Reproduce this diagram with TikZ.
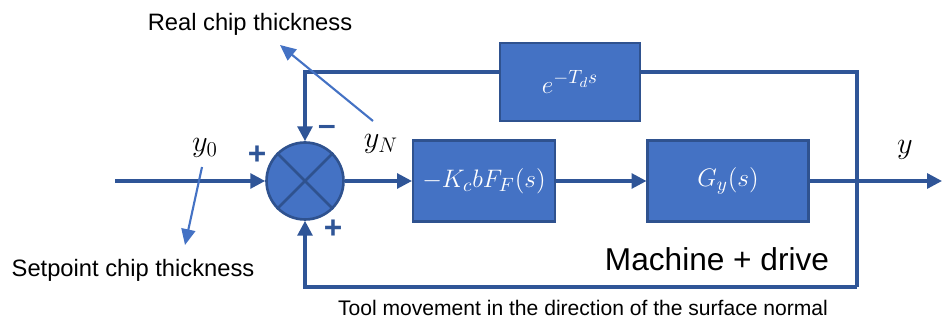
\documentclass[tikz,border=0pt]{standalone}
\usepackage{fontspec}
\setmainfont{Liberation Sans}
\usetikzlibrary{arrows.meta,positioning}
\definecolor{blockfill}{HTML}{4472C4}
\definecolor{blockline}{HTML}{2F528F}
\definecolor{wireblue}{HTML}{2F5597}
\definecolor{noteblue}{HTML}{4472C4}

\begin{document}
\begin{tikzpicture}[
  x=0.02cm, y=-0.02cm,
  font=\fontsize{13.5}{16}\selectfont,
  block/.style={draw=blockline, line width=1.2pt, fill=blockfill, text=white, inner sep=0pt, font=\fontsize{15.5}{18}\selectfont},
  sumnode/.style={circle, draw=blockline, line width=1.5pt, fill=blockfill, minimum size=1.54cm, inner sep=0pt},
  wire/.style={draw=wireblue, line width=1.8pt},
  arr/.style={wire, -{Triangle[length=8.5pt,width=8.5pt]}},
  note/.style={draw=noteblue, line width=1.2pt, -{Triangle[length=9pt,width=8pt]}},
  sign/.style={text=wireblue, font=\bfseries\fontsize{18}{18}\selectfont},
  sig/.style={font=\fontsize{18}{20}\selectfont}
]
\useasboundingbox (0,0) rectangle (942,320);
% blocks
\node[sumnode] (sum) at (305,181) {};
\draw[blockline, line width=1.5pt] (sum.north west) -- (sum.south east) (sum.north east) -- (sum.south west);
\node[block, minimum width=2.84cm, minimum height=1.62cm] (cutting) at (484,181) {$-K_c bF_F(s)$};
\node[block, minimum width=3.22cm, minimum height=1.62cm] (machine) at (728,181) {$G_y(s)$};
\node[block, minimum width=2.8cm, minimum height=1.56cm] (delay) at (570,82) {$e^{-T_d s}$};
% free ends
\coordinate (in) at (115,181);
\coordinate (out) at (942,181);
\coordinate (topright) at (857,72);
\coordinate (botright) at (857,287);
% signals
\draw[arr] (in) -- (sum);
\draw[arr] (sum) -- (cutting);
\draw[arr] (cutting) -- (machine);
\draw[arr] (machine) -- (out);
\draw[wire] (botright) -- (topright) -- (delay.east |- topright);
\draw[arr] (delay.west |- topright) -| (sum.north);
\draw[arr] (botright) -| (sum.south);
% labels
\node[sig] (y0) at (205,148) {$y_0$};
\node[sig] (yN) at (381,144) {$y_N$};
\node[sig] (y) at (905,150) {$y$};
\node[sign] (plusin) at (257,155) {+};
\node[sign] (minus) at (327,130) {--};
\node[sign] (plusfb) at (333,229) {+};
\node (real) at (250,24) {Real chip thickness};
\node (setpoint) at (133,270) {Setpoint chip thickness};
\node[font=\fontsize{18}{20}\selectfont] (drive) at (717,259) {Machine + drive};
\node[font=\fontsize{12}{14}\selectfont] (tool) at (583,308) {Tool movement in the direction of the surface normal};
% annotation arrows
\coordinate (yNfoot) at (373,121);
\coordinate (realtip) at (280,45);
\coordinate (y0foot) at (202,167);
\coordinate (setpointtip) at (185,245);
\draw[note] (yNfoot) -- (realtip);
\draw[note] (y0foot) -- (setpointtip);
\end{tikzpicture}
\end{document}
